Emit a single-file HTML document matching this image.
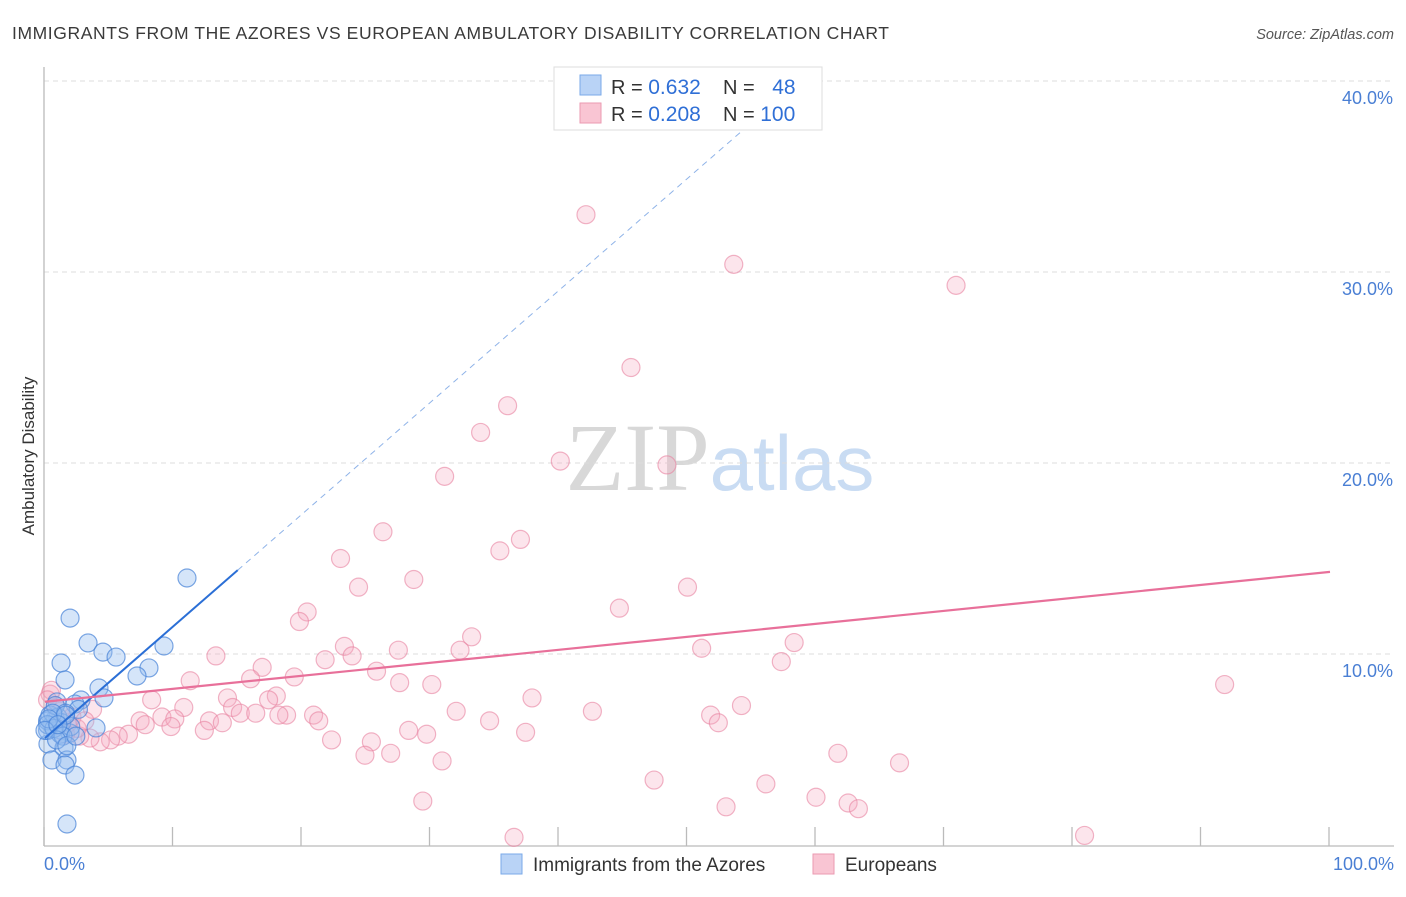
<!DOCTYPE html>
<html><head><meta charset="utf-8"><style>
body{margin:0;background:#fff;font-family:"Liberation Sans",sans-serif;}
svg text{font-family:"Liberation Sans",sans-serif;}
</style></head><body>
<svg id="chart" width="1406" height="892" xmlns="http://www.w3.org/2000/svg">
<text x="12" y="39" font-size="17.5" fill="#3a3a3a" textLength="877" lengthAdjust="spacing">IMMIGRANTS FROM THE AZORES VS EUROPEAN AMBULATORY DISABILITY CORRELATION CHART</text>
<text x="1394" y="39" font-size="14.5" fill="#555" text-anchor="end" font-style="italic">Source: ZipAtlas.com</text>
<text x="720" y="490" font-size="96" text-anchor="middle"><tspan fill="#d8d8d8" font-family="Liberation Serif">ZIP</tspan><tspan fill="#c9dcf3" font-size="78">atlas</tspan></text>
<g id="grid"></g>
<line x1="44" y1="67" x2="44" y2="846" stroke="#bbb" stroke-width="1.3"/>
<line x1="44" y1="846" x2="1394" y2="846" stroke="#bbb" stroke-width="1.3"/>
<g id="xticks"></g>
<text transform="translate(34,456) rotate(-90)" font-size="17" fill="#333" text-anchor="middle">Ambulatory Disability</text>
<text x="44" y="870" font-size="18" fill="#4a7fd4">0.0%</text>
<text x="1394" y="870" font-size="18" fill="#4a7fd4" text-anchor="end">100.0%</text>
<g id="ylabels"></g>
<g id="pink"></g>
<g id="blue"></g>
<g id="trends"></g>
<g>
<rect x="554" y="67" width="268" height="63" fill="#fff" stroke="#ddd"/>
<rect x="580" y="75" width="21" height="20" fill="#b9d3f6" stroke="#7aaae8"/>
<rect x="580" y="103" width="21" height="20" fill="#f9c5d3" stroke="#eb9ab2"/>
<text x="611" y="94" font-size="20" fill="#333">R = <tspan fill="#2f6fd6" font-size="21">0.632</tspan></text>
<text x="723" y="94" font-size="20" fill="#333">N = <tspan fill="#2f6fd6" dx="12" font-size="21">48</tspan></text>
<text x="611" y="121" font-size="20" fill="#333">R = <tspan fill="#2f6fd6" font-size="21">0.208</tspan></text>
<text x="723" y="121" font-size="20" fill="#333">N = <tspan fill="#2f6fd6" font-size="21">100</tspan></text>
</g>
<g>
<rect x="501" y="854" width="21" height="20" fill="#b9d3f6" stroke="#7aaae8"/>
<text x="533" y="871" font-size="19" fill="#333">Immigrants from the Azores</text>
<rect x="813" y="854" width="21" height="20" fill="#f9c5d3" stroke="#eb9ab2"/>
<text x="845" y="871" font-size="19" fill="#333">Europeans</text>
</g>
</svg>
<script>
const yTicks=[10,20,30,40];
const yTickLabels=["10.0%","20.0%","30.0%","40.0%"];
const xTickPositions=[0,10,20,30,40,50,60,70,80,90,100];
const blueX=[11.05,1.95,3.35,4.51,5.53,1.25,8.09,9.26,7.16,1.56,4.20,4.59,2.80,2.33,0.93,0.39,0.54,1.17,1.95,3.97,0.23,1.48,0.54,1.71,1.56,2.33,1.71,0.8,0.2,1.0,1.3,0.2,2.6,0.8,1.6,0.6,0.2,1.2,2.0,0.7,0.3,1.4,1.6,0,0.9,1.7,2.4,1.0];
const blueY=[13.98,11.88,10.58,10.10,9.84,9.53,9.27,10.42,8.85,8.64,8.22,7.70,7.59,7.38,7.49,6.81,6.28,6.02,5.86,6.13,5.29,5.08,4.45,4.45,4.19,3.66,1.10,6.6,6.0,6.7,6.4,6.5,7.1,7.3,6.9,6.9,6.3,5.8,6.2,6.1,6.6,5.7,6.8,6.0,5.5,5.2,5.7,6.3];
const pinkX=[42.1,53.6,70.9,45.6,36.0,33.9,40.1,48.4,31.1,26.3,37.0,35.4,23.0,28.7,50.0,24.4,44.7,20.4,19.8,33.2,58.3,23.3,51.1,32.3,27.5,23.9,13.3,21.8,57.3,16.9,25.8,19.4,16.0,11.3,27.6,30.1,91.8,8.3,18.0,37.9,14.2,17.4,54.2,10.8,14.6,42.6,32.0,15.2,16.4,18.8,20.9,18.2,9.1,51.8,10.1,52.4,34.6,12.8,21.3,7.4,13.8,7.8,9.8,12.4,28.3,29.7,37.4,22.3,25.4,61.7,24.9,26.9,30.9,66.5,47.4,56.1,29.4,60.0,53.0,62.5,63.3,36.5,80.9,6.5,5.7,5.1,4.3,3.5,2.7,2.5,1.8,1.2,0.4,0.8,3.7,1.6,2.1,0.5,0.2,3.1];
const pinkY=[33.0,30.4,29.3,25.0,23.0,21.6,20.1,19.9,19.3,16.4,16.0,15.4,15.0,13.9,13.5,13.5,12.4,12.2,11.7,10.9,10.6,10.4,10.3,10.2,10.2,9.9,9.9,9.7,9.6,9.3,9.1,8.8,8.7,8.6,8.5,8.4,8.4,7.6,7.8,7.7,7.7,7.6,7.3,7.2,7.2,7.0,7.0,6.9,6.9,6.8,6.8,6.8,6.7,6.8,6.6,6.4,6.5,6.5,6.5,6.5,6.4,6.3,6.2,6.0,6.0,5.8,5.9,5.5,5.4,4.8,4.7,4.8,4.4,4.3,3.4,3.2,2.3,2.5,2.0,2.2,1.9,0.4,0.5,5.8,5.7,5.5,5.4,5.6,5.7,6.1,6.4,7.0,7.9,7.3,7.1,5.8,6.7,8.1,7.6,6.5];
const blueTrend=[5.6,0.586]; // intercept, slope
const pinkTrend=[7.5,0.068];
const NS="http://www.w3.org/2000/svg";
const sx=v=>45+v*12.85, sy=v=>845-v*19.1;
function mk(tag,attrs,parent){const e=document.createElementNS(NS,tag);for(const k in attrs)e.setAttribute(k,attrs[k]);document.getElementById(parent).appendChild(e);return e;}
yTicks.forEach((t,i)=>{
 const l=mk('line',{x1:44,x2:1394,y1:sy(t),y2:sy(t),stroke:'#ddd','stroke-dasharray':'5,4'},'grid');
 
 
 const tx=mk('text',{x:1393,y:sy(t)+23,'font-size':18,fill:'#4a7fd4','text-anchor':'end'},'ylabels');
 tx.textContent=yTickLabels[i];
 
 
});
xTickPositions.forEach(t=>{
 const l=mk('line',{x1:sx(t)-1,x2:sx(t)-1,y1:827,y2:846,stroke:'#bbb','stroke-width':1.3},'xticks');
 
 
});
pinkX.forEach((x,i)=>{
 const c=mk('circle',{cx:sx(x),cy:sy(pinkY[i]),r:9,fill:'rgba(246,170,192,0.3)',stroke:'rgba(232,130,160,0.6)','stroke-width':1.2},'pink');
 
 
});
blueX.forEach((x,i)=>{
 const c=mk('circle',{cx:sx(x),cy:sy(blueY[i]),r:9,fill:'rgba(150,190,240,0.4)',stroke:'rgba(70,130,215,0.7)','stroke-width':1.2},'blue');
 
 
});
let l=mk('line',{x1:sx(0),y1:sy(blueTrend[0]),x2:sx(15),y2:sy(blueTrend[0]+blueTrend[1]*15),stroke:'#2b6fd6','stroke-width':2},'trends');


l=mk('line',{x1:sx(15),y1:sy(blueTrend[0]+blueTrend[1]*15),x2:sx(55.6),y2:sy(blueTrend[0]+blueTrend[1]*55.6),stroke:'#8fb3e8','stroke-width':1,'stroke-dasharray':'6,5'},'trends');


l=mk('line',{x1:sx(0),y1:sy(pinkTrend[0]),x2:sx(100),y2:sy(pinkTrend[0]+pinkTrend[1]*100),stroke:'#e8709a','stroke-width':2.2},'trends');


</script>
</body></html>
